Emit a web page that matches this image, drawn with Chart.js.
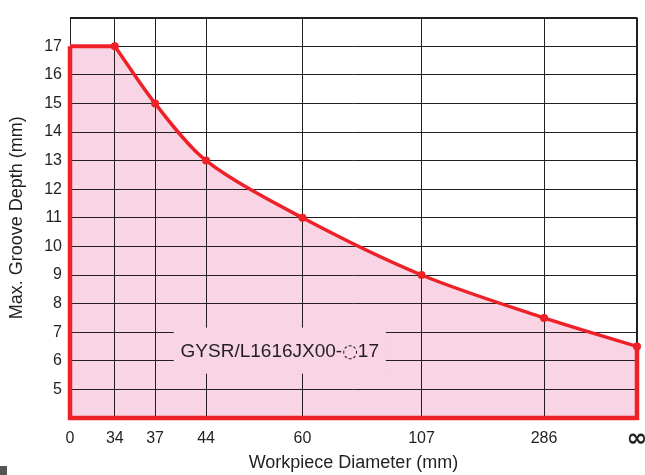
<!DOCTYPE html>
<html>
<head>
<meta charset="utf-8">
<script src="https://cdn.jsdelivr.net/npm/chart.js@4"></script>
<style>
  html, body { margin: 0; padding: 0; background: #fff; }
  #wrap { position: relative; width: 645px; height: 475px; }
  #corner { position: absolute; left: 0; top: 466px; width: 7px; height: 9px; background: #555; }
</style>
</head>
<body>
<div id="wrap">
  <canvas id="grafik" width="645" height="475"></canvas>
  <div id="corner"></div>
</div>
<script>
// Workpiece diameters along the bottom, and where each one sits on the (non-linear) axis
var diameterLabels = ["0", "34", "37", "44", "60", "107", "286", "\u221E"];
var diameterStations = [0, 7.9, 15, 24, 41, 62, 83.6, 100];

// Max. groove depth at each diameter
var grooveDepth = [17, 17, 15, 13, 11, 9, 7.5, 6.5];

// Y axis range
var depthMin = 4;
var depthMax = 18;

// Tool designation written inside the shaded area (middle part is the dotted circle)
var toolName = ["GYSR/L1616JX00-", "\u25CC", "17"];

var RED = "#ee2128";
var PINK = "#f8d4e4";
var INK = "#231f20";
var FONT = "'Liberation Sans', Arial, sans-serif";

var allPoints = grooveDepth.map(function (d, i) {
    return { x: diameterStations[i], y: d };
});
// flat part up to the first break point, then the curved part
var flatPoints = allPoints.slice(0, 2);
var curvePoints = allPoints.slice(1);

var last = diameterStations.length - 1;
// outline: left edge, bottom edge, right edge
var outlinePoints = [
    { x: diameterStations[0], y: grooveDepth[0] },
    { x: diameterStations[0], y: depthMin },
    { x: diameterStations[last], y: depthMin },
    { x: diameterStations[last], y: grooveDepth[last] }
];

// label box, in axis units
var note = { x0: 18.3, x1: 55.7, y0: 5.55, y1: 7.16, cx: 37, cy: 6.3 };

var notePlugin = {
    id: "notePlugin",
    beforeDatasetsDraw: function (chart) {
        var ctx = chart.ctx;
        var xs = chart.scales.x, ys = chart.scales.y;
        var l = xs.getPixelForValue(note.x0), r = xs.getPixelForValue(note.x1);
        var t = ys.getPixelForValue(note.y1), b = ys.getPixelForValue(note.y0);
        ctx.save();
        ctx.fillStyle = PINK;
        ctx.fillRect(l, t, r - l, b - t);
        ctx.fillStyle = INK;
        ctx.textBaseline = "middle";
        ctx.textAlign = "left";
        var fonts = ["19px " + FONT, "18px 'DejaVu Sans', sans-serif", "19px " + FONT];
        var widths = toolName.map(function (s, i) {
            ctx.font = fonts[i];
            return ctx.measureText(s).width;
        });
        var total = widths[0] + widths[1] + widths[2];
        var x = xs.getPixelForValue(note.cx) - total / 2;
        var y = ys.getPixelForValue(note.cy);
        toolName.forEach(function (s, i) {
            ctx.font = fonts[i];
            ctx.fillText(s, x, y);
            x += widths[i];
        });
        ctx.restore();
    }
};

var ctxGrafik = document.getElementById("grafik").getContext("2d");
var myChart = new Chart(ctxGrafik, {
    type: "line",
    data: {
        datasets: [
            {
                data: outlinePoints,
                borderColor: RED,
                borderWidth: 4.5,
                pointRadius: 0,
                tension: 0,
                fill: false,
                clip: false
            },
            {
                data: flatPoints,
                borderColor: RED,
                borderWidth: 4,
                backgroundColor: PINK,
                fill: "start",
                pointRadius: 0,
                tension: 0,
                clip: false
            },
            {
                data: curvePoints,
                borderColor: RED,
                borderWidth: 3.5,
                backgroundColor: PINK,
                fill: "start",
                tension: 0.3,
                pointRadius: 4,
                pointBackgroundColor: RED,
                pointBorderWidth: 0,
                clip: false
            }
        ]
    },
    options: {
        responsive: false,
        animation: false,
        layout: { padding: { top: 11, right: 8 } },
        plugins: {
            legend: { display: false },
            tooltip: { enabled: false },
            filler: { drawTime: "beforeDraw" }
        },
        scales: {
            x: {
                type: "linear",
                min: diameterStations[0],
                max: diameterStations[last],
                afterBuildTicks: function (axis) {
                    axis.ticks = diameterStations.map(function (v) { return { value: v }; });
                },
                afterFit: function (axis) {
                    axis.height = 57;
                    axis.paddingLeft = 0;
                    axis.paddingRight = 0;
                },
                ticks: {
                    autoSkip: false,
                    maxRotation: 0,
                    padding: 11,
                    color: INK,
                    font: function (c) {
                        if (c.tick && c.tick.value === diameterStations[last]) {
                            return { family: "'DejaVu Sans', sans-serif", size: 25, weight: "bold", lineHeight: 0.8 };
                        }
                        return { family: FONT, size: 16 };
                    },
                    callback: function (v) {
                        var i = diameterStations.indexOf(v);
                        return i >= 0 ? diameterLabels[i] : "";
                    }
                },
                grid: {
                    color: INK,
                    lineWidth: function (c) { return c.tick && c.tick.value === diameterStations[last] ? 2 : 1; },
                    drawTicks: false
                },
                border: { display: false },
                title: {
                    display: true,
                    text: "Workpiece Diameter (mm)",
                    color: INK,
                    font: { family: FONT, size: 18 },
                    padding: { top: 0, bottom: 1 }
                }
            },
            y: {
                min: depthMin,
                max: depthMax,
                afterFit: function (axis) { axis.width = 70; },
                ticks: {
                    stepSize: 1,
                    padding: 8,
                    color: INK,
                    font: { family: FONT, size: 16 },
                    callback: function (v) {
                        return (v === depthMin || v === depthMax) ? "" : v;
                    }
                },
                grid: {
                    color: INK,
                    lineWidth: function (c) { return c.tick && c.tick.value === depthMax ? 2 : 1; },
                    drawTicks: false
                },
                border: { display: false },
                title: {
                    display: true,
                    text: "Max. Groove Depth (mm)",
                    color: INK,
                    font: { family: FONT, size: 18 },
                    padding: { top: 6, bottom: 0 }
                }
            }
        }
    },
    plugins: [notePlugin]
});
</script>
</body>
</html>
